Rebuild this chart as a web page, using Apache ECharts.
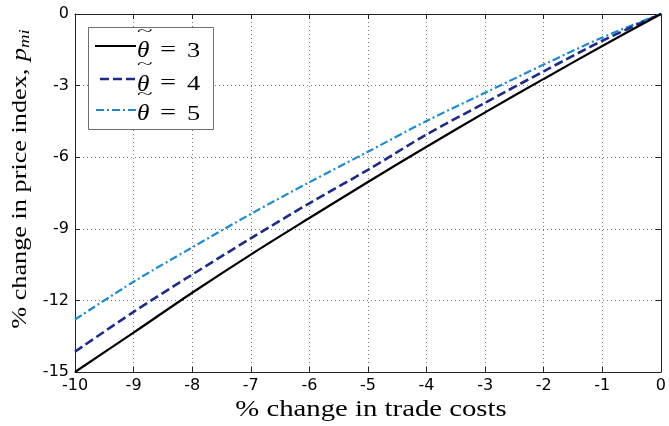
<!DOCTYPE html>
<html>
<head>
<meta charset="utf-8">
<script src="https://cdn.jsdelivr.net/npm/echarts@6/dist/echarts.min.js"></script>
<style>
  html, body { margin: 0; padding: 0; background: #fff; }
  #chart { width: 669px; height: 426px; }
</style>
</head>
<body>
<div id="chart"></div>
<script>
// Percentage change in trade costs (x) and resulting change in the price index
var tradeCostChange = [-10, -9, -8, -7, -6, -5, -4, -3, -2, -1, 0];
var priceTheta3 = [-15.0, -13.35, -11.68, -10.08, -8.55, -7.04, -5.56, -4.12, -2.72, -1.34, 0];
var priceTheta4 = [-14.15, -12.48, -10.92, -9.40, -7.93, -6.53, -5.05, -3.72, -2.40, -1.12, 0];
var priceTheta5 = [-12.8, -11.22, -9.78, -8.38, -7.05, -5.77, -4.48, -3.30, -2.12, -0.98, 0];
var thetaValues = ['3', '4', '5'];
var xTicks = { min: -10, max: 0, step: 1 };
var yTicks = { min: -15, max: 0, step: 3 };

function pairs(xs, ys) {
  return xs.map(function (x, i) { return [x, ys[i]]; });
}

var lineColors = ['#000000', '#1b2a8f', '#1b8ad2'];
var lineDashes = ['solid', [9, 4], [8, 3, 2, 3]];
var lineWidths = [2.2, 2.6, 2.2];
var seriesValues = [priceTheta3, priceTheta4, priceTheta5];

var chart = echarts.init(document.getElementById('chart'), null, { renderer: 'canvas' });

var tickFont = { fontFamily: 'DejaVu Sans', fontSize: 16, color: '#000' };
var gridDots = { show: true, lineStyle: { color: '#7a7a7a', width: 1, type: [1, 3] } };
var frameLine = { show: true, onZero: false, lineStyle: { color: '#222', width: 1 } };
var innerTick = { show: true, inside: true, length: 5, lineStyle: { color: '#222', width: 1 } };

function midText(x, y, text, font, extra) {
  var el = {
    type: 'text', x: x, y: y, z: 101,
    style: { text: text, font: font, fill: '#000', verticalAlign: 'middle', textVerticalAlign: 'middle' }
  };
  return Object.assign(el, extra || {});
}

// Legend: frame, line samples and the labels for each theta
var legendGraphics = [{
  type: 'rect', shape: { x: 88.5, y: 27.5, width: 125, height: 102 },
  style: { fill: '#fff', stroke: '#6e6e6e', lineWidth: 1 }, z: 100
}];
var rowLineY = [46, 79, 110];
var rowTextY = [51, 84.5, 114];
var sampleStart = [95, 100, 96];
thetaValues.forEach(function (v, i) {
  legendGraphics.push({
    type: 'line', z: 101,
    shape: { x1: sampleStart[i], y1: rowLineY[i], x2: 136, y2: rowLineY[i] },
    style: { stroke: lineColors[i], lineWidth: lineWidths[i], lineDash: lineDashes[i] === 'solid' ? null : lineDashes[i] }
  });
  legendGraphics.push(midText(137, rowTextY[i], 'θ', 'italic 23px "Liberation Serif"', { scaleX: 1.1 }));
  // wide tilde over theta
  legendGraphics.push(midText(137, rowTextY[i] - 19, '~', '16px "Liberation Serif"', { scaleX: 1.8, scaleY: 0.9 }));
  legendGraphics.push(midText(160, rowTextY[i] - 1, '=', '22px "Liberation Serif"', { scaleX: 1.3 }));
  legendGraphics.push(midText(187, rowTextY[i], v, '22px "Liberation Serif"', { scaleX: 1.2 }));
});

// Axis titles, set in a serif face and widened
var titleGraphics = [
  {
    type: 'text', x: 371, y: 410, scaleX: 1.25,
    style: { text: '% change in trade costs', font: '23px "Liberation Serif"', fill: '#000',
             align: 'center', verticalAlign: 'middle', textAlign: 'center', textVerticalAlign: 'middle' }
  },
  {
    type: 'group', x: 20, y: 180, rotation: Math.PI / 2,
    children: [
      {
        type: 'text', x: 118, y: 0, scaleX: 1.25,
        style: { text: '% change in price index, ', font: '21px "Liberation Serif"', fill: '#000',
                 align: 'right', verticalAlign: 'middle', textAlign: 'right', textVerticalAlign: 'middle' }
      },
      {
        type: 'text', x: 119, y: 0, scaleX: 1.25,
        style: { text: 'p', font: 'italic 21px "Liberation Serif"', fill: '#000',
                 align: 'left', verticalAlign: 'middle', textAlign: 'left', textVerticalAlign: 'middle' }
      },
      {
        type: 'text', x: 132, y: 5, scaleX: 1.25,
        style: { text: 'mi', font: 'italic 15px "Liberation Serif"', fill: '#000',
                 align: 'left', verticalAlign: 'middle', textAlign: 'left', textVerticalAlign: 'middle' }
      }
    ]
  }
];

chart.setOption({
  animation: false,
  backgroundColor: '#fff',
  grid: { left: 75, right: 1, top: 14, bottom: 54, containLabel: false },
  xAxis: [
    {
      type: 'value', position: 'bottom', min: xTicks.min, max: xTicks.max, interval: xTicks.step,
      axisLine: frameLine, axisTick: innerTick,
      axisLabel: Object.assign({ margin: 6 }, tickFont),
      splitLine: gridDots
    },
    {
      type: 'value', position: 'top', min: xTicks.min, max: xTicks.max, interval: xTicks.step,
      axisLine: frameLine, axisTick: innerTick, axisLabel: { show: false }, splitLine: { show: false }
    }
  ],
  yAxis: [
    {
      type: 'value', position: 'left', min: yTicks.min, max: yTicks.max, interval: yTicks.step,
      axisLine: frameLine, axisTick: innerTick,
      axisLabel: Object.assign({ margin: 6 }, tickFont),
      splitLine: gridDots
    },
    {
      type: 'value', position: 'right', min: yTicks.min, max: yTicks.max, interval: yTicks.step,
      axisLine: frameLine, axisTick: innerTick, axisLabel: { show: false }, splitLine: { show: false }
    }
  ],
  series: seriesValues.map(function (vals, i) {
    return {
      type: 'line', name: 'theta = ' + thetaValues[i],
      xAxisIndex: 0, yAxisIndex: 0,
      data: pairs(tradeCostChange, vals),
      symbol: 'none', smooth: 0.3,
      lineStyle: { color: lineColors[i], width: lineWidths[i], type: lineDashes[i] },
      z: 10 - i
    };
  }),
  graphic: titleGraphics.concat(legendGraphics)
});
</script>
</body>
</html>
